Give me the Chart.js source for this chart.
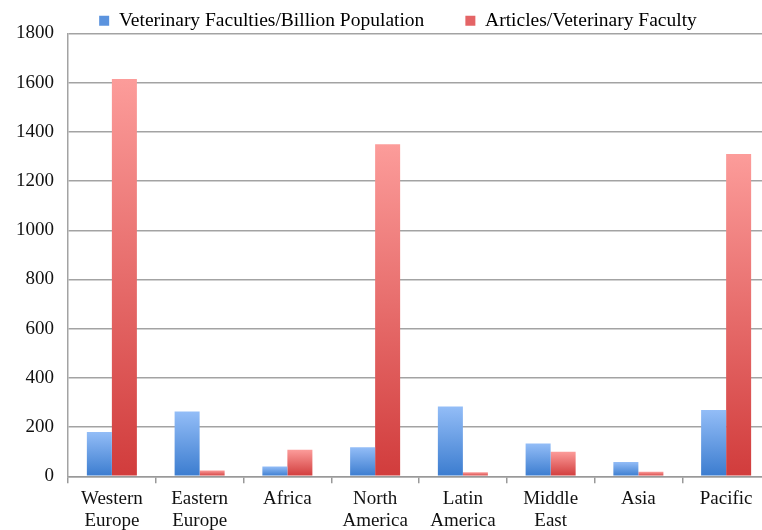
<!DOCTYPE html>
<html>
<head>
<meta charset="utf-8">
<script src="https://cdn.jsdelivr.net/npm/chart.js@4"></script>
<style>
  html, body { margin: 0; padding: 0; background: #fff; overflow: hidden; }
  #wrap { width: 776px; height: 537px; position: relative; }
</style>
</head>
<body>
<div id="wrap"><canvas id="chart"></canvas></div>
<script>
// Data
const regions = [
  ["Western", "Europe"], ["Eastern", "Europe"], "Africa", ["North", "America"],
  ["Latin", "America"], ["Middle", "East"], "Asia", "Pacific"
];
const facultiesPerBillion = [180, 263, 40, 118, 284, 133, 58, 270];
const articlesPerFaculty = [1615, 24, 108, 1350, 16, 100, 18, 1310];
const yTicks = [0, 200, 400, 600, 800, 1000, 1200, 1400, 1600, 1800];

// Gradient per bar, from the bar top to the zero line
function barGradient(light, dark) {
  return ctx => {
    const chart = ctx.chart;
    if (!chart.chartArea || ctx.raw === undefined) return dark;
    const y = chart.scales.y;
    const top = y.getPixelForValue(ctx.raw);
    const base = y.getPixelForValue(0);
    const g = chart.ctx.createLinearGradient(0, top, 0, base);
    g.addColorStop(0, light);
    g.addColorStop(1, dark);
    return g;
  };
}

// nudge the legend a little down and right after layout
const legendShift = {
  id: "legendShift",
  afterLayout(chart) {
    const lg = chart.legend;
    lg.top += 7; lg.bottom += 7;
    lg.left += 12; lg.right += 12;
  }
};

Chart.defaults.font.family = "'Liberation Serif', serif";
Chart.defaults.font.size = 19;
Chart.defaults.color = "#111";

new Chart(document.getElementById("chart"), {
  type: "bar",
  data: {
    labels: regions,
    datasets: [{
      label: "Veterinary Faculties/Billion Population",
      data: facultiesPerBillion,
      backgroundColor: barGradient("#93bdf7", "#3b7ccf"),
      borderWidth: 0,
      categoryPercentage: 0.57,
      barPercentage: 1.0
    }, {
      label: "Articles/Veterinary Faculty",
      data: articlesPerFaculty,
      backgroundColor: barGradient("#fc9c9a", "#d13c3c"),
      borderWidth: 0,
      categoryPercentage: 0.57,
      barPercentage: 1.0
    }]
  },
  plugins: [legendShift],
  options: {
    responsive: true,
    maintainAspectRatio: false,
    animation: false,
    layout: { padding: { top: 2, right: 6, bottom: 0, left: 2 } },
    plugins: {
      legend: {
        labels: {
          boxWidth: 10,
          boxHeight: 10,
          padding: 2,
          color: "#111",
          font: { size: 19.5 },
          generateLabels: chart => chart.data.datasets.map((ds, i) => ({
            // wider gap after the first entry, like the original
            text: i === 0 ? ds.label + "        " : ds.label,
            fillStyle: i === 0 ? "#5b93de" : "#e46466",
            strokeStyle: "rgba(0,0,0,0)",
            lineWidth: 0,
            datasetIndex: i
          }))
        }
      },
      tooltip: { enabled: false }
    },
    scales: {
      x: {
        grid: {
          offset: true,
          drawOnChartArea: false,
          color: "#999",
          tickLength: 7,
          lineWidth: 1.5
        },
        border: { color: "#999", width: 1.5 },
        ticks: { padding: 5, maxRotation: 0, autoSkip: false, font: { size: 19, lineHeight: 1.15 } }
      },
      y: {
        min: 0,
        max: 1800,
        afterBuildTicks: axis => { axis.ticks = yTicks.map(v => ({ value: v })); },
        ticks: { padding: 14, callback: v => String(v) },
        grid: { color: "#a3a3a3", lineWidth: 1.5, drawTicks: false },
        border: { color: "#a3a3a3", width: 1.5 }
      }
    }
  }
});
</script>
</body>
</html>
